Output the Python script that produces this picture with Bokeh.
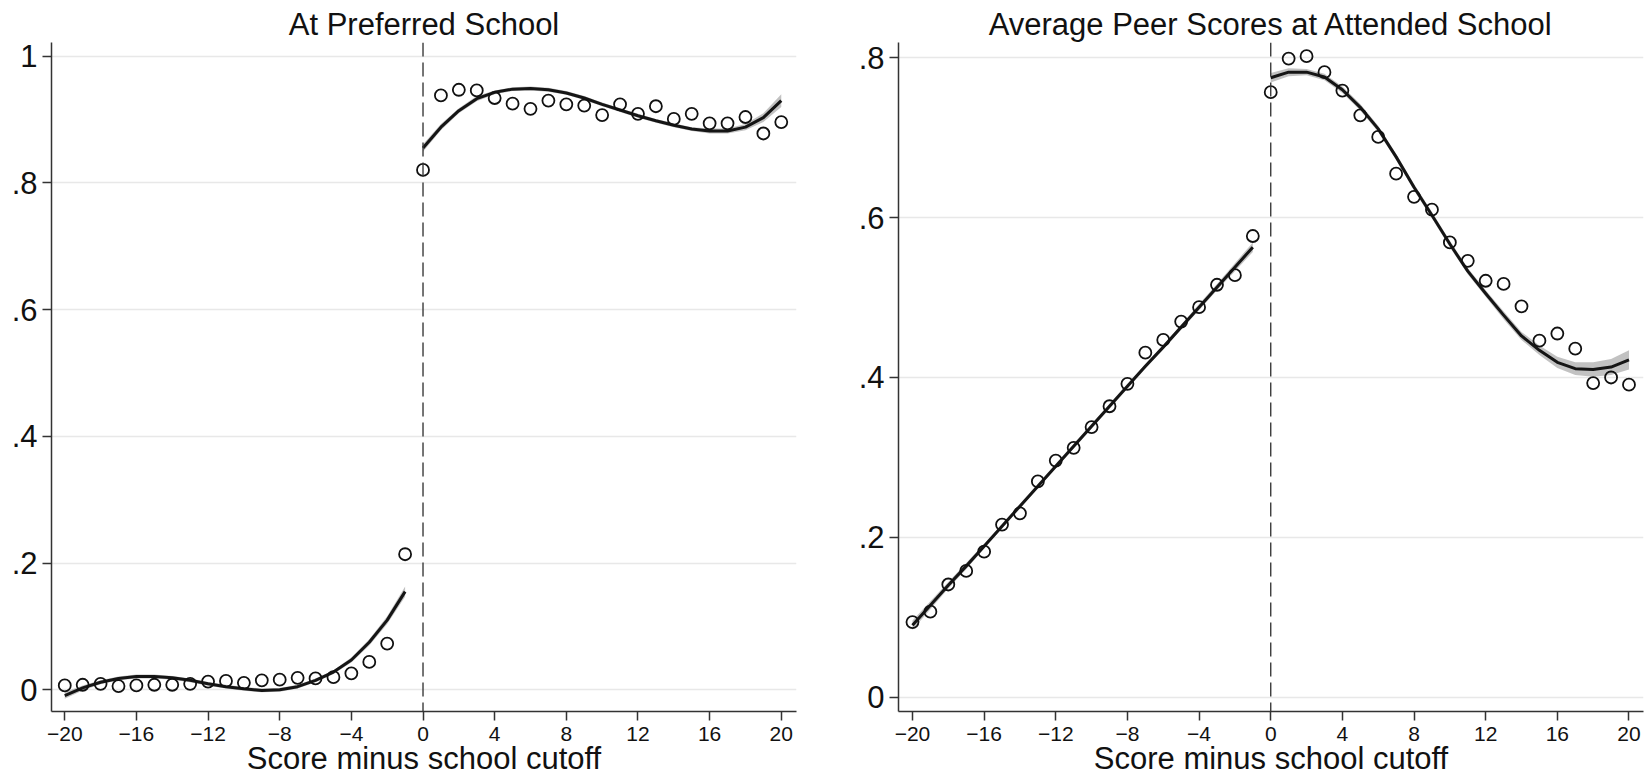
from bokeh.plotting import figure
from bokeh.layouts import row
from bokeh.models import Range1d, FixedTicker, CustomJSTickFormatter, Span, Title
from bokeh.embed import file_html
from bokeh.resources import INLINE

FONT = "Liberation Sans"

# ---------------- data ----------------
x_below = [-20, -19, -18, -17, -16, -15, -14, -13, -12, -11,
           -10, -9, -8, -7, -6, -5, -4, -3, -2, -1]
x_above = [0, 1, 2, 3, 4, 5, 6, 7, 8, 9, 10,
           11, 12, 13, 14, 15, 16, 17, 18, 19, 20]
x_ticks = [-20, -16, -12, -8, -4, 0, 4, 8, 12, 16, 20]

# Panel 1: At Preferred School
pref_bins_below = [0.007, 0.008, 0.0095, 0.006, 0.007, 0.008, 0.008, 0.0095, 0.013, 0.014,
                   0.011, 0.015, 0.016, 0.019, 0.018, 0.020, 0.026, 0.044, 0.073, 0.214]
pref_bins_above = [0.8205, 0.938, 0.947, 0.946, 0.934, 0.925, 0.917, 0.930, 0.924, 0.922, 0.907,
                   0.924, 0.909, 0.921, 0.901, 0.909, 0.894, 0.894, 0.904, 0.878, 0.896]
pref_fit_below = [-0.009, 0.003, 0.012, 0.018, 0.021, 0.021, 0.019, 0.015, 0.0095, 0.005,
                  0.0016, -0.001, 0.000, 0.005, 0.015, 0.028, 0.047, 0.075, 0.110, 0.155]
pref_fit_above = [0.855, 0.888, 0.914, 0.933, 0.943, 0.948, 0.949, 0.947, 0.942, 0.934, 0.924,
                  0.915, 0.906, 0.898, 0.891, 0.885, 0.882, 0.882, 0.888, 0.903, 0.930]
pref_ci_below = [0.005, 0.004, 0.003, 0.003, 0.003, 0.003, 0.003, 0.003, 0.003, 0.003,
                 0.003, 0.003, 0.003, 0.003, 0.003, 0.003, 0.004, 0.005, 0.006, 0.008]
pref_ci_above = [0.006, 0.005, 0.004, 0.004, 0.003, 0.003, 0.003, 0.003, 0.003, 0.003, 0.003,
                 0.003, 0.003, 0.003, 0.003, 0.003, 0.004, 0.004, 0.005, 0.007, 0.010]
pref_y_ticks = [0, 0.2, 0.4, 0.6, 0.8, 1.0]

# Panel 2: Average Peer Scores at Attended School
peer_bins_below = [0.094, 0.107, 0.141, 0.158, 0.182, 0.216, 0.230, 0.270, 0.296, 0.312,
                   0.338, 0.364, 0.392, 0.431, 0.447, 0.470, 0.488, 0.516, 0.528, 0.577]
peer_bins_above = [0.757, 0.799, 0.802, 0.782, 0.759, 0.728, 0.701, 0.655, 0.626, 0.610, 0.569,
                   0.546, 0.521, 0.517, 0.489, 0.446, 0.455, 0.436, 0.393, 0.400, 0.391]
peer_fit_below = [0.090, 0.115, 0.140, 0.164, 0.189, 0.214, 0.239, 0.264, 0.289, 0.314,
                  0.339, 0.364, 0.389, 0.414, 0.438, 0.463, 0.488, 0.513, 0.538, 0.563]
peer_fit_above = [0.775, 0.782, 0.782, 0.776, 0.760, 0.738, 0.711, 0.676, 0.638, 0.603, 0.567,
                  0.533, 0.505, 0.478, 0.452, 0.434, 0.419, 0.411, 0.410, 0.413, 0.422]
peer_ci_below = [0.006, 0.005, 0.004, 0.004, 0.003, 0.003, 0.003, 0.003, 0.003, 0.003,
                 0.003, 0.003, 0.003, 0.003, 0.003, 0.003, 0.004, 0.004, 0.005, 0.006]
peer_ci_above = [0.006, 0.005, 0.004, 0.004, 0.004, 0.004, 0.004, 0.004, 0.004, 0.004, 0.004,
                 0.004, 0.004, 0.005, 0.005, 0.006, 0.007, 0.008, 0.009, 0.010, 0.012]
peer_y_ticks = [0, 0.2, 0.4, 0.6, 0.8]

# ---------------- styling ----------------
AXIS_COLOR = "#333333"
TEXT_COLOR = "#111111"

ylabel_fmt = CustomJSTickFormatter(code="""
if (Math.abs(tick) < 1e-9) { return "0"; }
if (Math.abs(tick - 1) < 1e-9) { return "1"; }
return tick.toFixed(1).replace(/^0/, "");
""")


def make_panel(title, xr, yr, yticks, border_left, border_right,
               xb, bins_b, fit_b, ci_b, xa, bins_a, fit_a, ci_a):
    p = figure(width=826, height=783, x_range=xr, y_range=yr,
               output_backend="svg", toolbar_location=None,
               min_border_left=border_left, min_border_right=border_right,
               min_border_top=42, min_border_bottom=72,
               background_fill_color="white", border_fill_color="white")
    p.outline_line_color = None

    p.title = Title(text=title, align="center", vertical_align="middle",
                    text_font=FONT, text_font_size="31px",
                    text_font_style="normal", text_color=TEXT_COLOR, standoff=0)

    p.xaxis.ticker = FixedTicker(ticks=x_ticks)
    p.yaxis.ticker = FixedTicker(ticks=yticks)
    p.yaxis.formatter = ylabel_fmt
    p.xgrid.grid_line_color = None
    p.ygrid.grid_line_color = "#e8e8e8"
    p.ygrid.grid_line_width = 1.6

    for ax, fs, so in ((p.xaxis, "21px", 6), (p.yaxis, "31px", 5)):
        ax.axis_line_color = AXIS_COLOR
        ax.axis_line_width = 1.5
        ax.major_tick_line_color = AXIS_COLOR
        ax.major_tick_line_width = 1.5
        ax.major_tick_out = 9
        ax.major_tick_in = 0
        ax.minor_tick_line_color = None
        ax.major_label_text_font = FONT
        ax.major_label_text_font_size = fs
        ax.major_label_text_color = TEXT_COLOR
        ax.major_label_standoff = so

    p.xaxis.axis_label = "Score minus school cutoff"
    p.xaxis.axis_label_text_font = FONT
    p.xaxis.axis_label_text_font_size = "31px"
    p.xaxis.axis_label_text_font_style = "normal"
    p.xaxis.axis_label_text_color = TEXT_COLOR
    p.xaxis.axis_label_standoff = -3

    # confidence bands
    p.varea(x=xb, y1=[f - c for f, c in zip(fit_b, ci_b)], y2=[f + c for f, c in zip(fit_b, ci_b)],
            fill_color="#9a9a9a", fill_alpha=0.6)
    p.varea(x=xa, y1=[f - c for f, c in zip(fit_a, ci_a)], y2=[f + c for f, c in zip(fit_a, ci_a)],
            fill_color="#9a9a9a", fill_alpha=0.6)

    # fitted lines
    p.line(xb, fit_b, line_color="#151515", line_width=3.0, line_join="round")
    p.line(xa, fit_a, line_color="#151515", line_width=3.0, line_join="round")

    # binned means
    p.scatter(xb, bins_b, marker="circle", size=12, fill_color=None,
              line_color="#111111", line_width=1.8)
    p.scatter(xa, bins_a, marker="circle", size=12, fill_color=None,
              line_color="#111111", line_width=1.8)

    p.add_layout(Span(location=0, dimension="height", line_color="#3a3a3a",
                      line_dash="14 6", line_width=1.4))
    return p


p1 = make_panel("At Preferred School", Range1d(-20.74, 20.85), Range1d(-0.0342, 1.0216),
                pref_y_ticks, 51, 30,
                x_below, pref_bins_below, pref_fit_below, pref_ci_below,
                x_above, pref_bins_above, pref_fit_above, pref_ci_above)
p2 = make_panel("Average Peer Scores at Attended School", Range1d(-20.78, 20.81),
                Range1d(-0.0179, 0.8191), peer_y_ticks, 72, 9,
                x_below, peer_bins_below, peer_fit_below, peer_ci_below,
                x_above, peer_bins_above, peer_fit_above, peer_ci_above)

layout = row(p1, p2)
open("out.html", "w").write(file_html(layout, INLINE))
